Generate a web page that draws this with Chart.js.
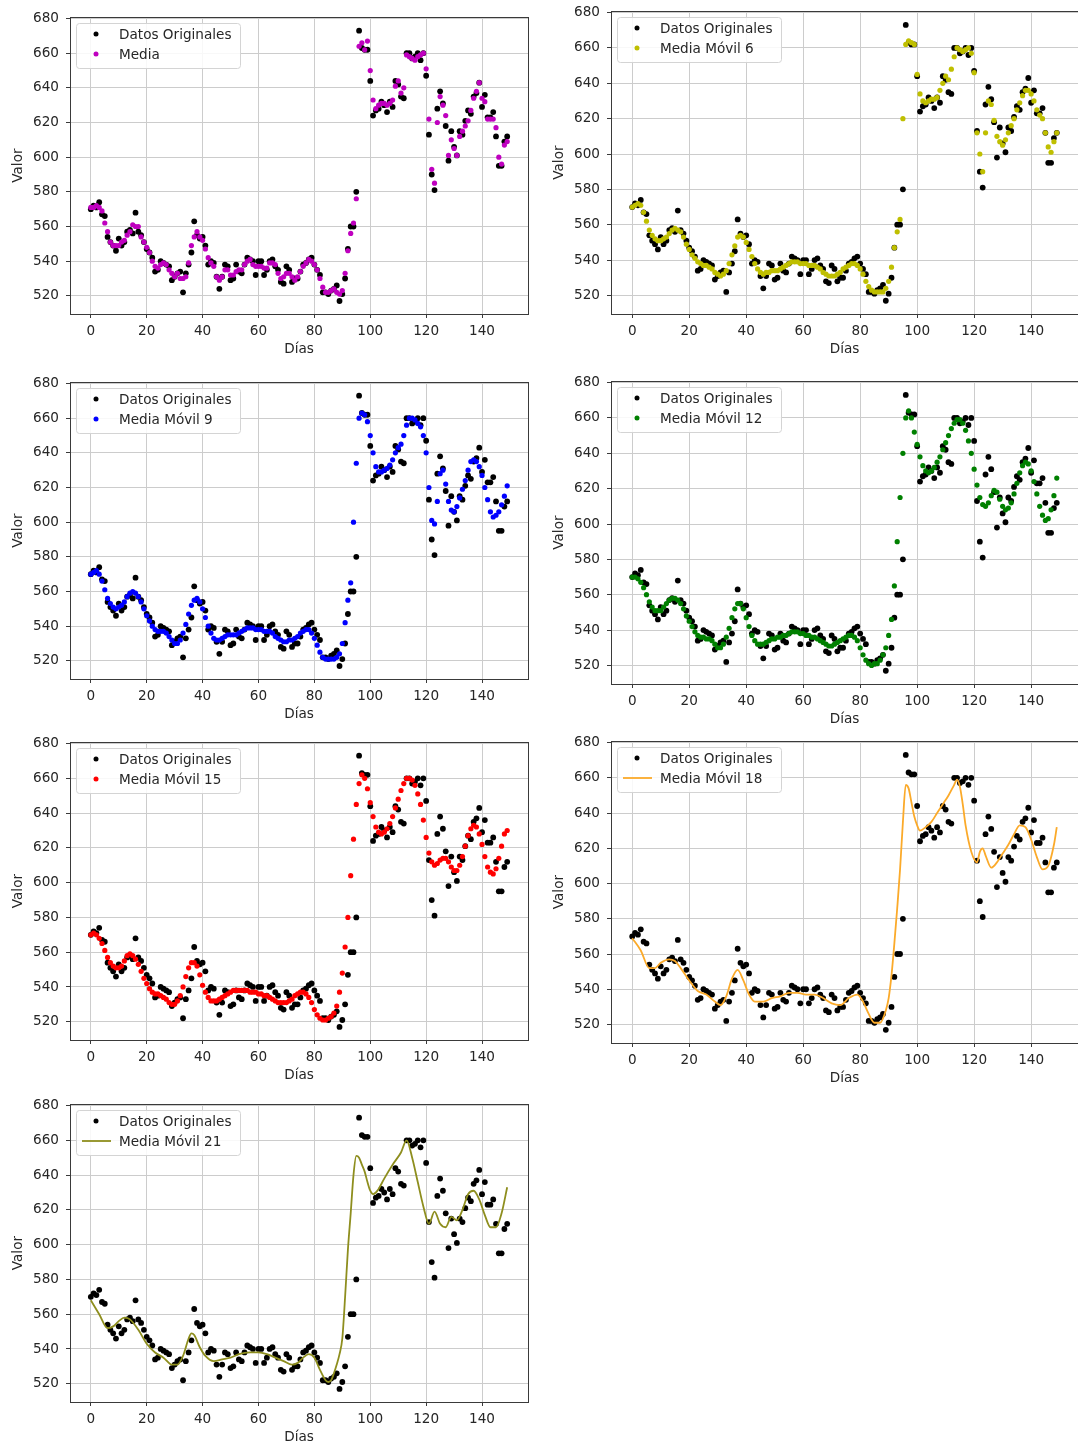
<!DOCTYPE html>
<html>
<head>
<meta charset="utf-8">
<script src="https://cdn.jsdelivr.net/npm/chart.js@4.4.1/dist/chart.umd.min.js"></script>
<style>
  html, body { margin: 0; padding: 0; background: #fff; }
  body { width: 1078px; height: 1447px; overflow: hidden; position: relative; }
  canvas { position: absolute; }
</style>
</head>
<body>
<script>
// ===============================
// Datos (un valor por día 0..149)
// ===============================
const originales = [
  570,572,571,574,567,566,554,551,549,546,
  553,549,551,557,558,556,568,557,555,551,
  547,545,542,534,535,540,539,538,537,529,
  531,533,534,522,533,538,545,563,555,553,
  554,549,538,540,539,531,524,531,538,537,
  529,530,538,534,533,538,542,541,540,532,
  540,540,532,535,540,541,537,535,528,527,
  537,535,528,530,530,534,538,539,541,542,
  538,535,532,522,522,521,523,524,526,517,
  521,530,547,560,560,580,673,663,662,662,
  644,624,627,628,632,630,626,632,629,644,
  642,635,634,660,660,657,658,660,656,660,
  647,613,590,581,628,638,631,618,598,615,
  606,601,615,613,621,627,625,635,637,643,
  629,636,623,623,626,612,595,595,609,612
];

const media = [
  571,571,572,571,569,562,557,551,549,549,
  549,551,552,555,557,561,560,560,554,551,
  548,545,540,537,536,538,539,538,535,533,
  531,533,530,530,531,539,549,554,557,554,
  552,547,542,539,537,531,529,531,535,535,
  532,532,534,535,535,538,540,541,538,537,
  537,537,536,536,539,539,538,533,530,531,
  533,533,531,529,531,534,537,539,541,540,
  538,535,530,525,522,522,523,524,522,521,
  523,533,546,556,562,576,664,666,662,667,
  650,633,628,630,631,631,630,631,633,641,
  644,637,640,659,658,657,656,658,659,660,
  651,622,593,585,620,635,630,624,601,610,
  605,601,612,615,618,621,627,634,638,643,
  634,632,622,622,622,617,600,596,607,609
];

const mediaMovil6 = [
  570,571,572,571,567,562,557,554,552,551,
  551,552,553,555,557,558,557,556,553,549,
  546,543,541,539,538,537,537,536,535,533,
  532,531,532,534,538,543,548,553,554,553,
  550,546,542,538,535,533,532,533,533,534,
  534,534,535,536,537,538,539,539,539,538,
  538,538,537,537,537,536,535,533,532,531,
  531,531,532,533,535,536,537,538,538,537,
  535,532,528,525,523,522,522,522,522,524,
  528,536,547,556,563,620,662,664,663,662,
  645,634,630,629,630,631,631,632,636,640,
  644,642,648,655,660,659,658,659,660,657,
  646,612,600,590,612,630,628,619,610,607,
  605,608,612,616,620,625,629,633,636,636,
  634,630,625,622,620,612,604,601,607,612
];

const mediaMovil9 = [
  570,571,572,570,566,561,556,553,551,550,
  551,552,554,557,559,560,559,557,554,550,
  546,543,540,538,537,537,537,536,534,532,
  530,530,532,536,541,547,552,555,556,554,
  550,545,540,536,533,532,532,533,534,535,
  535,535,535,536,537,538,539,539,539,538,
  538,538,537,537,537,536,534,533,532,531,
  531,532,532,533,534,536,537,538,538,536,
  533,529,525,522,521,521,521,521,522,524,
  530,542,555,565,600,634,660,663,662,658,
  650,640,632,629,629,630,631,633,636,640,
  643,645,650,656,660,660,659,657,655,650,
  640,620,601,599,612,628,630,622,612,607,
  606,609,614,619,624,630,635,636,635,632,
  627,620,613,606,603,604,606,610,615,621
];

const mediaMovil12 = [
  570,570,569,567,564,560,556,553,551,551,
  551,553,555,557,558,558,557,555,552,548,
  545,542,539,537,536,536,535,535,534,532,
  530,530,532,536,541,547,552,555,555,552,
  547,542,537,534,532,532,532,533,534,535,
  535,536,536,537,537,538,539,539,539,538,
  538,537,537,536,536,535,534,533,532,531,
  531,532,533,534,535,536,537,537,536,534,
  530,526,523,521,520,521,521,523,526,530,
  537,546,565,590,615,640,660,664,660,652,
  645,638,633,630,629,630,632,635,638,642,
  646,650,654,657,659,659,657,653,647,640,
  631,622,615,611,610,612,616,619,618,614,
  610,608,609,612,617,623,629,633,635,634,
  630,624,617,610,605,602,603,608,616,626
];

const mediaMovil15 = [
  570,571,570,568,565,561,557,554,552,551,
  551,552,555,558,559,558,556,553,549,545,
  542,539,537,536,536,535,534,533,531,530,
  530,532,535,540,546,551,554,554,552,547,
  541,537,534,532,532,532,533,534,535,536,
  537,538,538,538,538,538,538,537,537,537,
  536,536,535,535,534,533,532,531,531,531,
  531,532,533,535,536,537,537,536,534,531,
  527,524,522,521,521,522,523,525,529,537,
  548,563,580,604,625,645,657,662,660,654,
  646,638,632,629,628,629,631,634,638,643,
  648,653,657,660,660,659,656,651,645,636,
  626,617,612,610,611,613,614,614,612,609,
  607,607,610,615,621,627,631,633,632,628,
  622,615,609,606,605,608,614,621,628,630
];

// líneas: días leídos y valores
const mediaMovil18Dias = [0,3,6,8,10,13,15,17,20,23,26,29,31,33,35,37,39,41,43,46,49,52,55,58,61,64,67,70,73,76,79,81,83,85,87,89,90,91,92,93,94,95,96,97,98,99,100,101,103,105,107,109,111,113,114,115,116,117,119,121,122,123,124,126,128,130,132,134,136,138,140,142,144,146,148,149];
const mediaMovil18 = [569,562,552,552,555,557,556,552,545,539,537,533,531,536,546,551,545,537,533,533,535,536,538,538,537,537,535,532,531,535,537,533,526,521,521,528,535,548,566,586,608,635,656,654,646,638,633,630,632,635,640,645,650,656,659,655,645,633,618,612,618,620,616,609,612,617,622,628,633,632,625,615,608,610,622,632];

const mediaMovil21Dias = [0,3,6,8,10,12,14,17,20,23,26,29,31,33,35,36,37,39,41,44,47,50,53,57,60,63,66,69,72,74,76,78,80,82,84,85,86,87,88,89,90,91,92,93,94,95,96,97,98,99,100,101,102,103,105,108,111,113,115,117,119,121,123,125,127,129,131,133,135,137,139,141,143,145,147,149];
const mediaMovil21 = [568,560,552,553,556,558,557,551,543,538,535,531,531,536,546,549,548,541,536,533,534,535,537,538,538,537,535,533,531,532,535,537,535,528,522,521,522,526,531,537,546,570,597,618,640,651,650,646,642,636,631,629,630,632,638,646,653,660,650,636,622,612,619,612,610,616,614,620,629,631,626,617,610,610,618,633];

const xTicks = [0, 20, 40, 60, 80, 100, 120, 140];
const yTicks = [520, 540, 560, 580, 600, 620, 640, 660, 680];

// ===============================
// Ejes y estilo
// ===============================
const X_MIN = -7.45, X_MAX = 156.45;
const Y_MIN = 509.5, Y_MAX = 680.8;
const FONT = "'DejaVu Sans', sans-serif";
const FONT_SIZE = 13.6;
const TEXT = "#262626";

// posición de cada panel: pixel del día 0 y 140, pixel de 680 y 520
const paneles = [
  { label: "Media", serie: media, color: "#bf00bf", x0: 91, x140: 482, y680: 18, y520: 296 },
  { label: "Media Móvil 6", serie: mediaMovil6, color: "#bfbf00", x0: 632, x140: 1031, y680: 12, y520: 295 },
  { label: "Media Móvil 9", serie: mediaMovil9, color: "#0000ff", x0: 91, x140: 482, y680: 383, y520: 661 },
  { label: "Media Móvil 12", serie: mediaMovil12, color: "#008000", x0: 632, x140: 1031, y680: 382, y520: 665 },
  { label: "Media Móvil 15", serie: mediaMovil15, color: "#ff0000", x0: 91, x140: 482, y680: 743, y520: 1022 },
  { label: "Media Móvil 18", dias: mediaMovil18Dias, serie: mediaMovil18, color: "#fbaa2a", linea: true, x0: 632, x140: 1031, y680: 742, y520: 1024 },
  { label: "Media Móvil 21", dias: mediaMovil21Dias, serie: mediaMovil21, color: "#8e8e1e", linea: true, x0: 91, x140: 482, y680: 1105, y520: 1384 }
];

// caja completa (spines) alrededor del área
const marcoPlugin = {
  id: "marco",
  afterDatasetsDraw(chart) {
    const a = chart.chartArea, ctx = chart.ctx;
    ctx.save();
    ctx.strokeStyle = "#3a3a3a";
    ctx.lineWidth = 1;
    ctx.strokeRect(Math.round(a.left) + 0.5, Math.round(a.top) + 0.5,
      Math.round(a.right - a.left), Math.round(a.bottom - a.top));
    ctx.restore();
  }
};

// leyenda dentro del área (arriba a la izquierda)
const leyendaPlugin = {
  id: "leyenda",
  afterDraw(chart, args, opts) {
    const a = chart.chartArea, ctx = chart.ctx;
    const x = Math.round(a.left) + 6, y = Math.round(a.top) + 6, w = 164, h = 45;
    ctx.save();
    ctx.beginPath();
    if (ctx.roundRect) ctx.roundRect(x + 0.5, y + 0.5, w, h, 3);
    else ctx.rect(x + 0.5, y + 0.5, w, h);
    ctx.fillStyle = "rgba(255,255,255,0.85)";
    ctx.fill();
    ctx.strokeStyle = "#d4d4d4";
    ctx.lineWidth = 1;
    ctx.stroke();

    const filas = [
      { texto: "Datos Originales", color: "#000000", linea: false },
      { texto: opts.texto, color: opts.color, linea: opts.linea }
    ];
    filas.forEach((f, i) => {
      const cy = y + 11 + i * 20;
      if (f.linea) {
        ctx.strokeStyle = f.color;
        ctx.lineWidth = 1.8;
        ctx.beginPath();
        ctx.moveTo(x + 6, cy);
        ctx.lineTo(x + 35, cy);
        ctx.stroke();
      } else {
        ctx.fillStyle = f.color;
        ctx.beginPath();
        ctx.arc(x + 20, cy, 2.5, 0, Math.PI * 2);
        ctx.fill();
      }
      ctx.fillStyle = TEXT;
      ctx.font = FONT_SIZE + "px " + FONT;
      ctx.textBaseline = "middle";
      ctx.textAlign = "left";
      ctx.fillText(f.texto, x + 43, cy + 1);
    });
    ctx.restore();
  }
};

const EJE_Y = 64, EJE_X = 48, PAD_T = 12, PAD_R = 12;

function dibujar(p, caja) {
  const canvas = document.createElement("canvas");
  canvas.width = caja.w;
  canvas.height = caja.h;
  canvas.style.width = caja.w + "px";
  canvas.style.height = caja.h + "px";
  canvas.style.left = caja.left + "px";
  canvas.style.top = caja.top + "px";
  document.body.appendChild(canvas);

  const puntosOriginales = originales.map((v, i) => ({ x: i, y: v }));
  const puntosSerie = p.linea
    ? p.serie.map((v, i) => ({ x: p.dias[i], y: v }))
    : p.serie.map((v, i) => ({ x: i, y: v }));

  const serieDataset = p.linea
    ? {
        label: p.label, data: puntosSerie, showLine: true,
        borderColor: p.color, borderWidth: 1.8, pointRadius: 0,
        tension: 0.4, cubicInterpolationMode: "monotone"
      }
    : {
        label: p.label, data: puntosSerie, showLine: false,
        backgroundColor: p.color, borderWidth: 0, pointRadius: 2.6
      };

  const fuente = { family: FONT, size: FONT_SIZE };
  const chart = new Chart(canvas, {
    type: "scatter",
    data: {
      datasets: [
        serieDataset,
        {
          label: "Datos Originales", data: puntosOriginales,
          backgroundColor: "#000000", borderWidth: 0, pointRadius: 2.9
        }
      ]
    },
    options: {
      responsive: false,
      animation: false,
      events: [],
      layout: { padding: { top: caja.padT, right: caja.padR, left: 0, bottom: 0 } },
      plugins: {
        legend: { display: false },
        tooltip: { enabled: false },
        leyenda: { texto: p.label, color: p.color, linea: !!p.linea }
      },
      scales: {
        x: {
          type: "linear", min: X_MIN, max: X_MAX,
          afterBuildTicks: (ax) => { ax.ticks = xTicks.map((v) => ({ value: v })); },
          afterFit: (ax) => { ax.height = EJE_X; },
          grid: { color: "#cccccc", lineWidth: 1, tickLength: 4, tickColor: "#3a3a3a" },
          border: { display: false },
          ticks: { color: TEXT, font: fuente, padding: 5, maxRotation: 0 },
          title: { display: true, text: "Días", color: TEXT, font: fuente, padding: { top: 0, bottom: 4 } }
        },
        y: {
          type: "linear", min: Y_MIN, max: Y_MAX,
          afterBuildTicks: (ax) => { ax.ticks = yTicks.map((v) => ({ value: v })); },
          afterFit: (ax) => { ax.width = EJE_Y; },
          grid: { color: "#cccccc", lineWidth: 1, tickLength: 4, tickColor: "#3a3a3a" },
          border: { display: false },
          ticks: { color: TEXT, font: fuente, padding: 7 },
          title: { display: true, text: "Valor", color: TEXT, font: fuente, padding: { top: 4, bottom: 0 } }
        }
      }
    },
    plugins: [marcoPlugin, leyendaPlugin]
  });
  return { chart, canvas };
}

function crearPanel(p) {
  const pxDia = (p.x140 - p.x0) / 140;
  const pxVal = (p.y520 - p.y680) / 160;
  const L = Math.round(p.x0 + X_MIN * pxDia);
  const R = Math.round(p.x0 + X_MAX * pxDia);
  const T = Math.round(p.y680 - (Y_MAX - 680) * pxVal);
  const B = Math.round(p.y520 + (520 - Y_MIN) * pxVal);

  const caja = {
    left: L - EJE_Y, top: T - PAD_T,
    w: R - L + EJE_Y + PAD_R, h: B - T + PAD_T + EJE_X,
    padT: PAD_T, padR: PAD_R
  };
  const primero = dibujar(p, caja);

  // corregir si Chart.js movió el área de dibujo
  const a = primero.chart.chartArea;
  const dl = Math.round(a.left - EJE_Y);
  const dt = Math.round(a.top - PAD_T);
  const dr = Math.round((caja.w - PAD_R) - a.right);
  const db = Math.round((caja.h - EJE_X) - a.bottom);
  if (dl || dt || dr || db) {
    primero.chart.destroy();
    primero.canvas.remove();
    dibujar(p, {
      left: caja.left - dl, top: caja.top - dt,
      w: caja.w + dl + dr, h: caja.h + dt + db,
      padT: PAD_T, padR: PAD_R
    });
  }
}

paneles.forEach(crearPanel);
</script>
</body>
</html>
